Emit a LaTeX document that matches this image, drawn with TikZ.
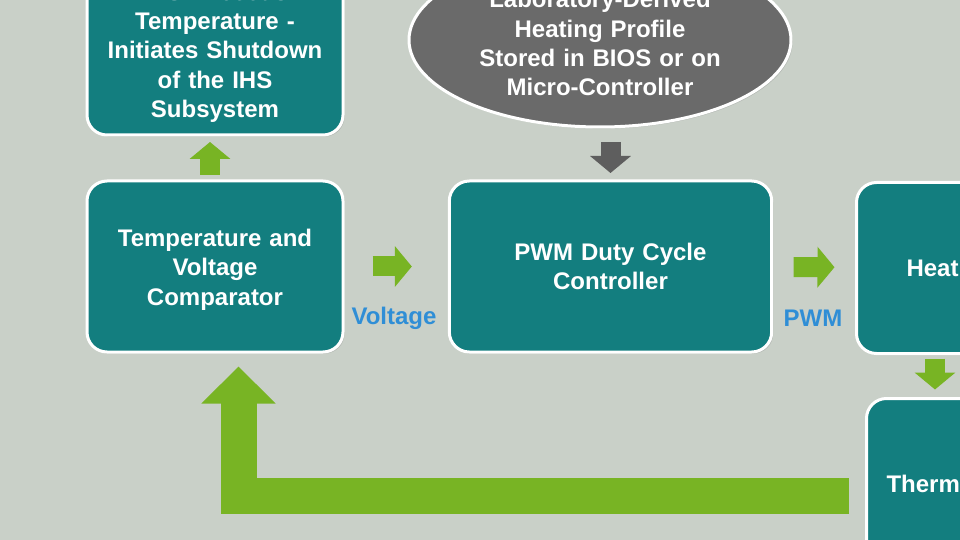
\documentclass[tikz,border=0pt]{standalone}
\usepackage{fontspec}
\setmainfont{Liberation Sans}
\usetikzlibrary{shapes.geometric,arrows.meta,shadows}

\definecolor{bgcol}{HTML}{C9D0C8}
\definecolor{tealbox}{HTML}{137E7F}
\definecolor{grayell}{HTML}{6A6A6A}
\definecolor{arrgreen}{HTML}{78B424}
\definecolor{arrgray}{HTML}{5E5E5E}
\definecolor{lblblue}{HTML}{2F8ED6}

\tikzset{
    boxfont/.style={font=\fontsize{12pt}{14.65pt}\selectfont\bfseries},
    lowered/.style={execute at begin node={\rule{0pt}{11.8pt}}},
    box/.style={boxfont, draw=white, line width=1.5pt, fill=tealbox, rounded corners=10pt,
        text=white, minimum width=128pt, minimum height=85.5pt,
        drop shadow={opacity=0.3, shadow xshift=0.8pt, shadow yshift=-0.8pt}},
    midbox/.style={box, lowered, align=center, text width=120pt},
    cutbox/.style={box, anchor=north west, text width=150pt, align=left},
    profile/.style={boxfont, lowered, ellipse, draw=white, line width=1.5pt, fill=grayell, text=white,
        align=center, text width=130pt, inner sep=0pt, minimum width=191pt, minimum height=87pt,
        drop shadow={opacity=0.3, shadow xshift=0.8pt, shadow yshift=-0.8pt}},
    lbl/.style={boxfont, text=lblblue},
    blockarr/.style={arrgreen, line width=10pt, -{Triangle[width=20pt,length=8.5pt]}},
    bigarr/.style={arrgreen, line width=18pt, line join=miter, -{Triangle[width=36pt,length=18.5pt]}}
}

\begin{document}
\begin{tikzpicture}[x=0.5pt, y=-0.5pt]
    % 背景
    \useasboundingbox (0,0) rectangle (960,540);
    \clip (0,0) rectangle (960,540);
    \fill[bgcol] (0,0) rectangle (960,540);

    % 设置节点
    \node[midbox] (topbox) at (215,49.5) {IHS Exceeds\\Temperature -\\Initiates Shutdown\\of the IHS\\Subsystem};
    \node[midbox] (cmp) at (215,266.5) {Temperature and\\Voltage\\Comparator};
    \node[box, align=center, text width=154.5pt] (pwm) at (610.5,266.5) {PWM Duty Cycle\\Controller};
    \node[cutbox, inner xsep=25pt] (heat) at (855,181) {Heat};
    \node[cutbox, inner xsep=10pt] (therm) at (865,397) {Therm};
    \node[profile] (prof) at (600,40) {Laboratory-Derived\\Heating Profile\\Stored in BIOS or on\\Micro-Controller};

    % 标签
    \node[lbl] (vlbl) at (394,318) {Voltage};
    \node[lbl] (plbl) at (813,318) {PWM};

    % 画箭头
    \draw[blockarr, shorten <=14pt, shorten >=18pt] (cmp) -- (pwm);
    \draw[blockarr, shorten <=10.25pt, shorten >=10.25pt] (pwm) -- (heat);
    \draw[blockarr, shorten <=2.25pt, shorten >=2.75pt] ([xshift=-2.5pt]cmp.north) -- ([xshift=-2.5pt]topbox.south);
    \draw[blockarr, arrgray, shorten <=6.75pt, shorten >=3.25pt] (prof.south -| pwm.north) -- (pwm.north);
    \draw[blockarr, shorten <=1.75pt, shorten >=3.75pt] ([xshift=40pt]heat.south west) -- ([xshift=35pt]therm.north west);
    \draw[bigarr] ([xshift=-8pt,yshift=-6pt]therm.west) -| ([xshift=11.75pt,yshift=-6.5pt]cmp.south);
\end{tikzpicture}
\end{document}
